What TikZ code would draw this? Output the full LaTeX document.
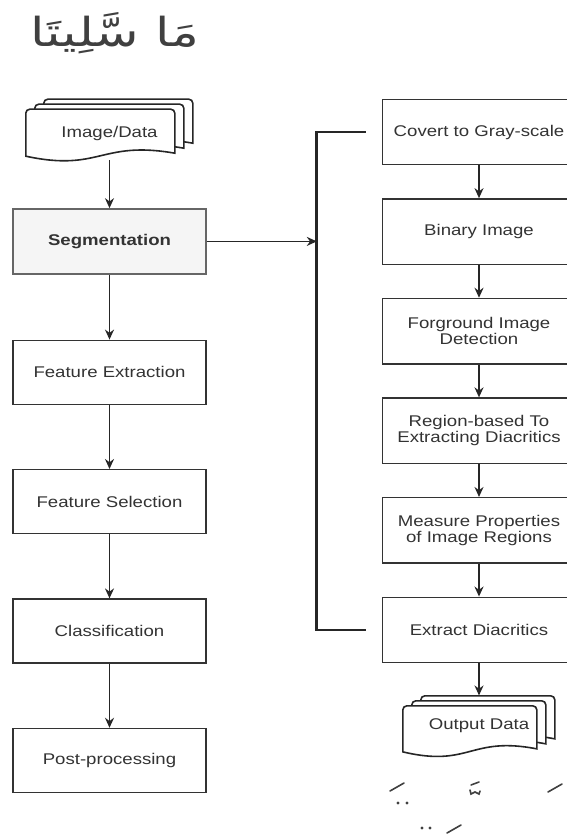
\documentclass[tikz,border=0pt]{standalone}
\usepackage{fontspec}
\setmainfont{Liberation Sans}[FakeStretch=1.2]
\newfontfamily\arabicfont[Script=Arabic,FakeStretch=1.3]{DejaVu Sans}
\TeXXeTstate=1
\usepackage{tikz}
\usetikzlibrary{shapes,arrows,arrows.meta,positioning,calc}
\pgfdeclarelayer{background}
\pgfsetlayers{background,main}

% stack of three document sheets behind node #1 (front sheet #2 x #3)
\newcommand{\docsheets}[3]{%
  \begin{pgfonlayer}{background}
    \foreach \k in {2,1,0}
      \draw[sheet, shift={($(#1.south west)+({9pt*\k},{5pt*\k})$)}]
        (0,4pt) -- (0,{#3-4pt}) arc (180:90:4pt) -- ({#2-4pt},#3) arc (90:0:4pt) -- (#2,7pt)
        .. controls ({0.5*#2},20pt) and ({0.5*#2},-12pt) .. (0,4pt) -- cycle;
  \end{pgfonlayer}}

\begin{document}
\begin{tikzpicture}[auto, >={Stealth[length=10pt,width=9pt]}]
        \tikzset{
            block/.style={draw=black!80, fill=white, rectangle, minimum width=193pt, minimum height=64pt, align=center, line width=1.4pt, text=black!80, font=\fontsize{15.5}{16}\selectfont},
            segblock/.style={block, fill=black!4, draw=black!60, font=\fontsize{15.5}{16}\selectfont\bfseries},
            stepblock/.style={block, minimum height=65.5pt},
            docnode/.style={rectangle, minimum width=#1, minimum height=61pt, inner sep=0pt, text=black!80, font=\fontsize{15.5}{16}\selectfont},
            sheet/.style={draw=black!85, fill=white, line width=1.6pt},
            line/.style={line width=1.6pt, draw=black!85},
            bracket/.style={line width=2.8pt, draw=black!85},
            diacr/.style={line width=1.6pt, draw=black!75, line cap=round}
        }
        \useasboundingbox (0,0) rectangle (566pt,-834pt);

        % Title word
        \node [text=black!75, font=\arabicfont\fontsize{40}{46}\selectfont] (word) at (115pt,-33pt) {\beginR مَا سَّلِيتَا\endR};

        % Nodes -- main pipeline
        \node [docnode=167pt, text height=20pt] (imgdata) at (109.5pt,-129.5pt) {Image/Data};
        \node [segblock, minimum height=65pt, below=48pt of imgdata] (seg) {Segmentation};
        \node [block, below=65pt of seg] (fext) {Feature Extraction};
        \node [block, below=64pt of fext] (fsel) {Feature Selection};
        \node [block, below=64pt of fsel] (cls) {Classification};
        \node [block, below=64pt of cls] (post) {Post-processing};

        % Nodes -- segmentation steps
        \node [stepblock] (gray) at (479pt,-132pt) {Covert to Gray-scale};
        \node [stepblock, below=32.7pt of gray] (bin) {Binary Image};
        \node [stepblock, below=32.7pt of bin] (fgd) {Forground Image\\Detection};
        \node [stepblock, below=32.7pt of fgd] (reg) {Region-based To\\Extracting Diacritics};
        \node [stepblock, below=32.7pt of reg] (meas) {Measure Properties\\of Image Regions};
        \node [stepblock, below=32.7pt of meas] (extr) {Extract Diacritics};
        \node [docnode=152pt, minimum height=60pt, below=32pt of extr] (outdata) {Output Data};

        \docsheets{imgdata}{149pt}{51pt}
        \docsheets{outdata}{134pt}{50pt}

        % Connections
        \draw [->, line] (imgdata) -- (seg);
        \draw [->, line] (seg) -- (fext);
        \draw [->, line] (fext) -- (fsel);
        \draw [->, line] (fsel) -- (cls);
        \draw [->, line] (cls) -- (post);

        \draw [->, line] (gray) -- (bin);
        \draw [->, line] (bin) -- (fgd);
        \draw [->, line] (fgd) -- (reg);
        \draw [->, line] (reg) -- (meas);
        \draw [->, line] (meas) -- (extr);
        \draw [->, line] (extr) -- (outdata);

        % Bracket round the steps
        \coordinate (brx) at ($(gray.west)+(-65pt,0)$);
        \draw [bracket] ($(gray.west)+(-16pt,0)$) -- (brx) |- ($(extr.west)+(-16pt,0)$);
        \draw [->, line] (seg.east) -- (seg.east -| brx);

        % Extracted diacritics
        \draw [diacr] (390pt,-791pt) -- (404pt,-783pt);
        \fill [black!75] (398pt,-803pt) circle (1.7pt) (407pt,-803pt) circle (1.7pt);
        \draw [diacr] (471pt,-785pt) -- (479pt,-782pt);
        \draw [diacr] (470pt,-790pt) -- (471pt,-794pt) -- (475pt,-792pt) -- (479pt,-794pt) -- (480pt,-791pt);
        \draw [diacr] (548pt,-792pt) -- (562pt,-784pt);
        \fill [black!75] (422pt,-828pt) circle (1.7pt) (430pt,-828pt) circle (1.7pt);
        \draw [diacr] (447pt,-833pt) -- (461pt,-825pt);
\end{tikzpicture}
\end{document}
